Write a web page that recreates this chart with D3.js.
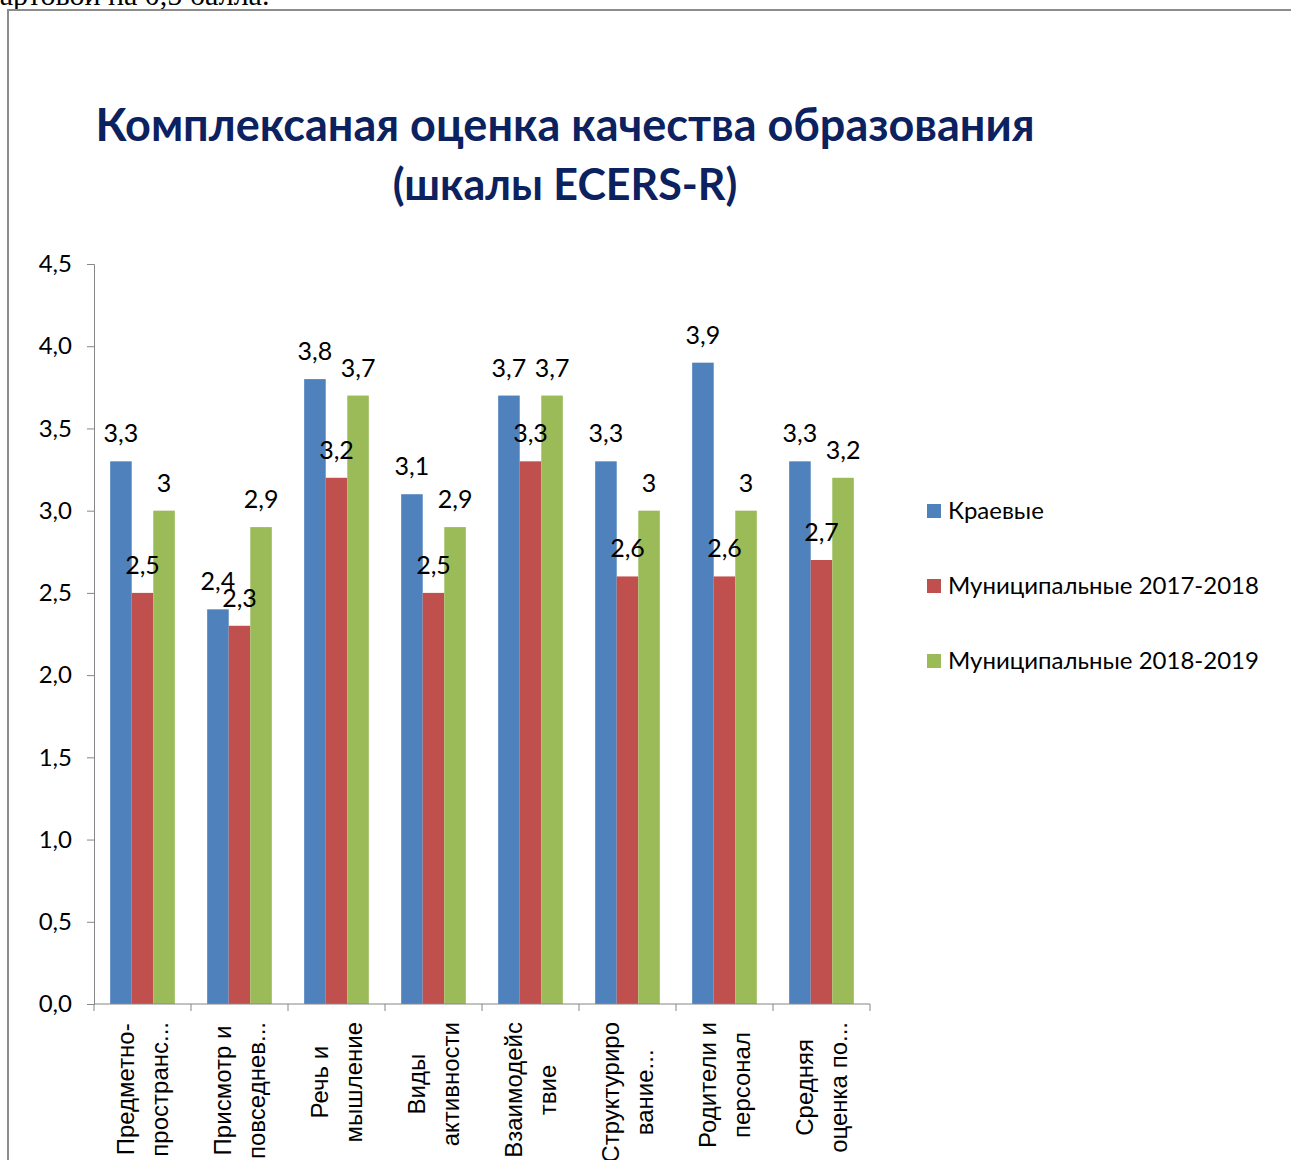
<!DOCTYPE html>
<html lang="ru">
<head>
  <meta charset="UTF-8">
  <title>Комплексаная оценка качества образования</title>
  <script src="https://d3js.org/d3.v7.min.js"></script>
  <style>
    body { margin: 0; background: white; overflow: hidden; }
    svg { display: block; }
    .calib { font-family: Lato, "Open Sans", sans-serif; }
    .axis-x-label { font-family: "Liberation Sans", Arial, sans-serif; font-size: 24px; }
  </style>
</head>
<body>
<svg width="1291" height="1160"></svg>
<script>
  const categories = [
    ["Предметно-", "пространс..."],
    ["Присмотр и", "повседнев..."],
    ["Речь и", "мышление"],
    ["Виды", "активности"],
    ["Взаимодейс", "твие"],
    ["Структуриро", "вание..."],
    ["Родители и", "персонал"],
    ["Средняя", "оценка по..."]
  ];
  const seriesNames = ["Краевые", "Муниципальные 2017-2018", "Муниципальные 2018-2019"];
  const kraevye   = [3.3, 2.4, 3.8, 3.1, 3.7, 3.3, 3.9, 3.3];
  const mun2017   = [2.5, 2.3, 3.2, 2.5, 3.3, 2.6, 2.6, 2.7];
  const mun2018   = [3.0, 2.9, 3.7, 2.9, 3.7, 3.0, 3.0, 3.2];
  const yTicks = [0, 0.5, 1, 1.5, 2, 2.5, 3, 3.5, 4, 4.5];
  const colors = ["#4F81BD", "#C0504D", "#9BBB59"];

  const seriesValues = [kraevye, mun2017, mun2018];
  const svg = d3.select("svg");
  const comma = v => String(v).replace(".", ",");

  // text above the frame, cut by the page edge
  svg.append("text")
    .attr("x", -27).attr("y", 5)
    .style("font-family", "'Liberation Serif', 'Times New Roman', serif")
    .style("font-size", "30px")
    .text("стартовой на 0,5 балла.");

  // chart frame
  svg.append("rect")
    .attr("x", 8).attr("y", 10)
    .attr("width", 1400).attr("height", 1300)
    .attr("fill", "none")
    .attr("stroke", "#8c8c8c")
    .attr("stroke-width", 2);

  // title
  const title = svg.append("text")
    .attr("class", "calib")
    .attr("text-anchor", "middle")
    .style("font-size", "45px")
    .style("font-weight", "bold")
    .attr("fill", "#0B2160");
  title.append("tspan").attr("x", 565).attr("y", 141).text("Комплексаная оценка качества образования");
  title.append("tspan").attr("x", 565).attr("y", 200).style("font-size", "43px").text("(шкалы ECERS-R)");

  const x0 = d3.scaleBand()
    .domain(d3.range(categories.length))
    .range([94, 870])
    .paddingInner(0).paddingOuter(0);

  const x1 = d3.scaleBand()
    .domain(d3.range(seriesNames.length))
    .range([0, x0.bandwidth()])
    .paddingInner(0).paddingOuter(0.75);

  const y = d3.scaleLinear().domain([0, 4.5]).range([1004, 264]);

  // y axis
  const yAxis = svg.append("g")
    .attr("transform", "translate(94,0)")
    .call(d3.axisLeft(y).tickValues(yTicks).tickSize(7).tickPadding(15)
      .tickFormat(d => d3.format(".1f")(d).replace(".", ",")));
  yAxis.selectAll("path, line").attr("stroke", "#868686");
  yAxis.selectAll("text")
    .attr("class", "calib")
    .style("font-size", "24px")
    .attr("fill", "#000");

  // bars
  const groups = svg.append("g").selectAll("g")
    .data(categories)
    .join("g")
    .attr("transform", (d, i) => `translate(${x0(i)},0)`);

  groups.selectAll("rect")
    .data((d, i) => seriesValues.map((s, k) => ({ k, v: s[i] })))
    .join("rect")
    .attr("x", d => x1(d.k))
    .attr("y", d => y(d.v))
    .attr("width", x1.bandwidth())
    .attr("height", d => y(0) - y(d.v))
    .attr("fill", d => colors[d.k]);

  groups.selectAll("text.val")
    .data((d, i) => seriesValues.map((s, k) => ({ k, v: s[i] })))
    .join("text")
    .attr("class", "val calib")
    .attr("x", d => x1(d.k) + x1.bandwidth() / 2)
    .attr("y", d => y(d.v) - 19)
    .attr("text-anchor", "middle")
    .style("font-size", "25px")
    .text(d => comma(d.v));

  // x axis
  const xAxis = svg.append("g");
  xAxis.append("line")
    .attr("x1", 94).attr("x2", 870)
    .attr("y1", y(0)).attr("y2", y(0))
    .attr("stroke", "#868686");
  xAxis.selectAll("line.tick")
    .data(d3.range(categories.length + 1))
    .join("line")
    .attr("class", "tick")
    .attr("x1", i => i < categories.length ? x0(i) : x0.range()[1])
    .attr("x2", i => i < categories.length ? x0(i) : x0.range()[1])
    .attr("y1", y(0)).attr("y2", y(0) + 7)
    .attr("stroke", "#868686");

  // wrapped category labels: block hangs from the axis, lines centred on each other
  const xl = xAxis.selectAll("text")
    .data(categories)
    .join("text")
    .attr("class", "axis-x-label")
    .attr("text-anchor", "middle")
    .attr("transform", (d, i) => `translate(${x0(i) + x0.bandwidth() / 2},1022) rotate(-90)`);
  xl.selectAll("tspan")
    .data(d => d)
    .join("tspan")
    .attr("y", (d, j) => j === 0 ? -17 : 17)
    .attr("dy", "0.35em")
    .text(d => d);
  xl.each(function () {
    const spans = d3.select(this).selectAll("tspan");
    const w = d3.max(spans.nodes(), n => n.getComputedTextLength());
    spans.attr("x", -w / 2);
  });

  // legend
  const legend = svg.append("g").selectAll("g")
    .data(seriesNames)
    .join("g")
    .attr("transform", (d, i) => `translate(927,${511 + i * 75})`);
  legend.append("rect")
    .attr("x", 0).attr("y", -7)
    .attr("width", 14).attr("height", 14)
    .attr("fill", (d, i) => colors[i]);
  legend.append("text")
    .attr("class", "calib")
    .attr("x", 21).attr("dy", "0.35em")
    .style("font-size", "24px")
    .text(d => d);
</script>
</body>
</html>
